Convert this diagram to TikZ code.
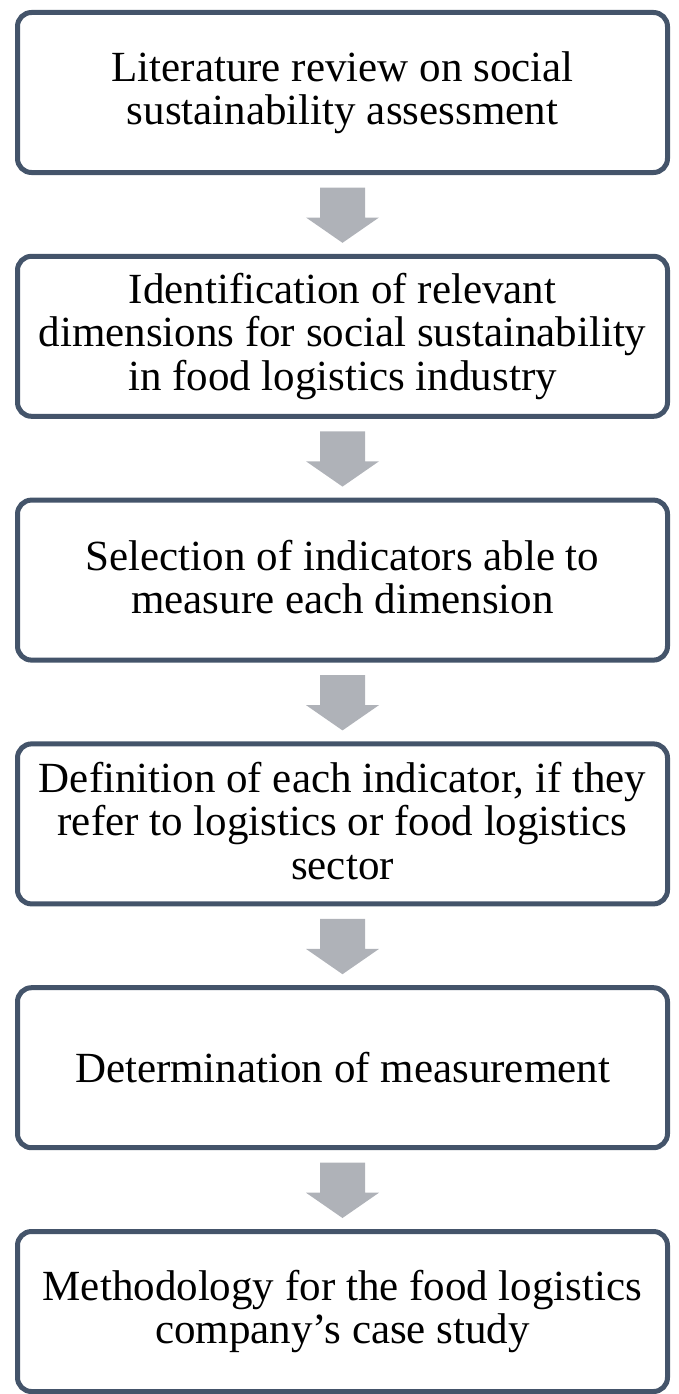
\documentclass[tikz,border=0pt]{standalone}
\usepackage{fontspec}
\setmainfont{Liberation Serif}
\usetikzlibrary{calc}
\definecolor{boxline}{HTML}{44546A}
\definecolor{arrowfill}{HTML}{AFB2B8}
\tikzset{
  stepbox/.style={draw=boxline, line width=5pt, rounded corners=14pt, fill=white,
    minimum width=650pt, minimum height=160pt, align=center,
    font=\fontsize{43}{43.5}\selectfont, inner sep=0pt,
    % fixed line boxes so every text block sits the same way in its box
    execute at begin node={\rule{0pt}{37pt}},
    execute at end node={\rule[-6.5pt]{0pt}{6.5pt}}},
}
% block arrow hanging from the bottom of box #1 down to box #2
\newcommand{\blockarrow}[2]{%
  \fill[arrowfill]
    ($(#1.south)+(-22.5pt,-12.5pt)$) -- ($(#1.south)+(22.5pt,-12.5pt)$) --
    ($(#1.south)+(22.5pt,-42.5pt)$) -- ($(#1.south)+(36.5pt,-42.5pt)$) --
    ($(#2.north)+(0pt,11pt)$) --
    ($(#1.south)+(-36.5pt,-42.5pt)$) -- ($(#1.south)+(-22.5pt,-42.5pt)$) -- cycle;}
\begin{document}
\begin{tikzpicture}[x=1pt,y=1pt]
  \useasboundingbox (0,0) rectangle (678,-1394);
  \node[stepbox] (b1) at (342.5,-92.5) {Literature review on social\\sustainability assessment};
  \node[stepbox] (b2) at (342.5,-336.3) {Identification of relevant\\dimensions for social sustainability\\in food logistics industry};
  \node[stepbox] (b3) at (342.5,-580.1) {Selection of indicators able to\\measure each dimension};
  \node[stepbox] (b4) at (342.5,-823.9) {Definition of each indicator, if they\\refer to logistics or food logistics\\sector};
  \node[stepbox] (b5) at (342.5,-1067.7) {Determination of measurement};
  \node[stepbox] (b6) at (342.5,-1311.5) {Methodology for the food logistics\\company’s case study};
  \blockarrow{b1}{b2}
  \blockarrow{b2}{b3}
  \blockarrow{b3}{b4}
  \blockarrow{b4}{b5}
  \blockarrow{b5}{b6}
\end{tikzpicture}
\end{document}
